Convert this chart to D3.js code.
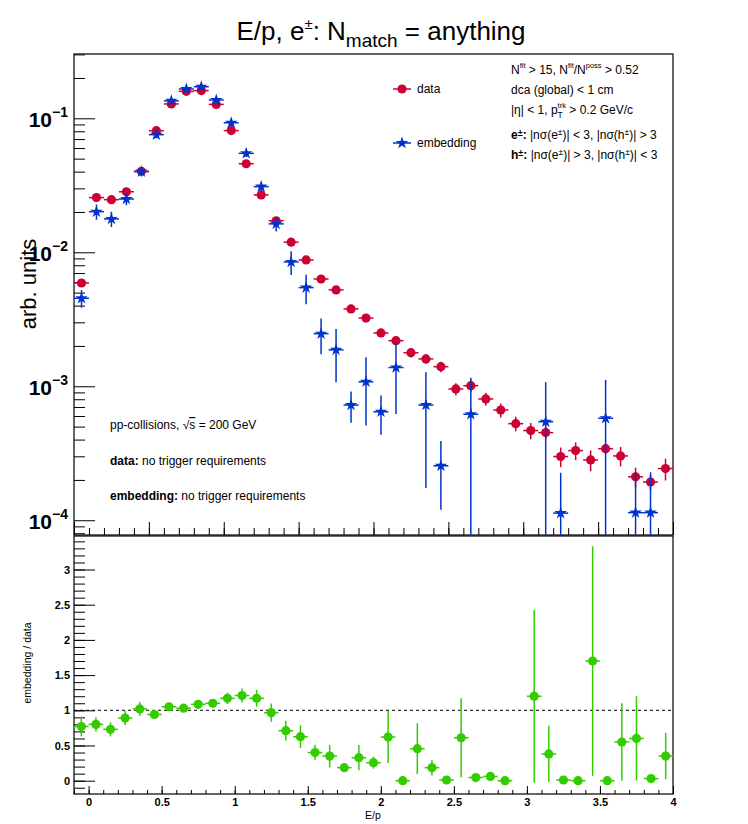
<!DOCTYPE html>
<html>
<head>
<meta charset="utf-8">
<script src="https://cdn.jsdelivr.net/npm/d3@7"></script>
<style>
  body { margin: 0; background: #fff; }
  svg { display: block; font-family: "Liberation Sans", Arial, Helvetica, sans-serif; }
</style>
</head>
<body>
<div id="plot"></div>
<script>
// upper pad: 40 bins of E/p (0..4), lower pad: 41 ratio points (-0.1..4)
const binCenters = [0.05,0.15,0.25,0.35,0.45,0.55,0.65,0.75,0.85,0.95,1.05,1.15,1.25,1.35,1.45,1.55,1.65,1.75,1.85,1.95,
                    2.05,2.15,2.25,2.35,2.45,2.55,2.65,2.75,2.85,2.95,3.05,3.15,3.25,3.35,3.45,3.55,3.65,3.75,3.85,3.95]

const dataValues = [5.9e-3,0.0256,0.0247,0.0283,0.0402,0.0808,0.128,0.159,0.161,0.127,
                    0.081,0.0458,0.0268,0.0172,0.0119,8.77e-3,6.32e-3,5.24e-3,3.78e-3,3.23e-3,
                    2.50e-3,2.19e-3,1.78e-3,1.60e-3,1.40e-3,9.55e-4,1.01e-3,8.04e-4,6.65e-4,5.26e-4,
                    4.67e-4,4.51e-4,2.99e-4,3.31e-4,2.82e-4,3.42e-4,3.02e-4,2.11e-4,1.93e-4,2.43e-4]
const dataErrors = [1.8e-4,5e-4,5e-4,5e-4,6e-4,9e-4,1.2e-3,1.4e-3,1.4e-3,1.2e-3,
                    9e-4,7e-4,5e-4,4e-4,3.5e-4,3e-4,2.6e-4,2.4e-4,2e-4,1.8e-4,
                    1.6e-4,1.5e-4,1.4e-4,1.3e-4,1.25e-4,1e-4,1e-4,9e-5,8e-5,6.5e-5,
                    6.5e-5,5e-5,5e-5,5e-5,5e-5,3.2e-5,5e-5,3.6e-5,2.5e-5,4.5e-5]

const embValues = [4.54e-3,0.0201,0.01775,0.0250,0.0400,0.0755,0.135,0.1655,0.172,0.137,
                   0.0927,0.0548,0.0309,0.0163,8.47e-3,5.45e-3,2.47e-3,1.87e-3,7.24e-4,1.08e-3,
                   6.45e-4,1.38e-3,null,7.24e-4,2.55e-4,null,6.18e-4,null,null,null,
                   null,5.44e-4,1.13e-4,null,null,5.77e-4,null,1.14e-4,1.14e-4,null]
const embErrors = [6.8e-4,2.6e-3,2.3e-3,2.5e-3,3.2e-3,4.5e-3,6.8e-3,8e-3,8.5e-3,7e-3,
                   5.5e-3,3.3e-3,2.3e-3,2.0e-3,1.7e-3,1.36e-3,7.4e-4,8.0e-4,1.9e-4,5.7e-4,
                   2.1e-4,7.6e-4,null,5.5e-4,1.35e-4,null,5.4e-4,null,null,null,
                   null,5.3e-4,1.13e-4,null,null,5.4e-4,null,1.14e-4,1.14e-4,null]

const ratioCenters = [-0.05,0.05,0.15,0.25,0.35,0.45,0.55,0.65,0.75,0.85,0.95,1.05,1.15,1.25,1.35,1.45,1.55,1.65,1.75,1.85,
                      1.95,2.05,2.15,2.25,2.35,2.45,2.55,2.65,2.75,2.85,2.95,3.05,3.15,3.25,3.35,3.45,3.55,3.65,3.75,3.85,3.95]
const ratioValues = [0.77,0.80,0.73,0.89,1.02,0.94,1.05,1.03,1.085,1.10,1.17,1.21,1.17,0.966,0.71,0.625,0.40,0.35,0.185,0.327,
                     0.256,0.62,0.0,0.455,0.185,0.01,0.61,0.045,0.06,0.0,null,1.20,0.38,0.01,0.0,1.70,0.0,0.55,0.60,0.03,0.35]
const ratioErrors = [0.14,0.10,0.10,0.10,0.10,0.06,0.05,0.05,0.06,0.06,0.08,0.10,0.12,0.13,0.14,0.16,0.11,0.16,0.05,0.18,
                     0.085,0.37,0.01,0.36,0.11,0.01,0.56,0.02,0.02,0.0,null,1.23,0.40,0.01,0.0,1.63,0.0,0.55,0.60,0.02,0.33]

const halfBin = 0.05
const red = '#cc0033', blue = '#0033cc', green = '#33cc00'

// layout
const W = 748, H = 824
const L = 74, R = 673, topT = 54, topB = 535, botT = 536, botB = 794

const svg = d3.select('#plot').append('svg').attr('width', W).attr('height', H)

const xTop = d3.scaleLinear().domain([0, 4]).range([L, R])
const xBot = d3.scaleLinear().domain([-0.1, 4.0]).range([L, R])
const yTop = d3.scaleLog().domain([7.76e-5, 0.302]).range([topB, topT])
const yBot = d3.scaleLinear().domain([-0.189, 3.476]).range([botB, botT])

const defs = svg.append('defs')
defs.append('clipPath').attr('id', 'clipTop').append('rect')
  .attr('x', L).attr('y', topT).attr('width', R - L).attr('height', topB - topT)
defs.append('clipPath').attr('id', 'clipBot').append('rect')
  .attr('x', L).attr('y', botT).attr('width', R - L).attr('height', botB - botT)

// text with sub/superscripts: parts = [{t, size, shift, bold}]
function richText(parent, x, y, size, parts, anchor) {
  const t = parent.append('text').attr('x', x).attr('y', y)
    .attr('font-size', size).attr('text-anchor', anchor || 'start')
  let cur = 0
  parts.forEach(p => {
    const shift = p.shift || 0
    const ts = t.append('tspan').attr('dy', shift - cur).text(p.t)
    if (p.size) ts.attr('font-size', p.size)
    if (p.bold) ts.attr('font-weight', 'bold')
    if (p.dx) ts.attr('dx', p.dx)
    if (p.over) ts.style('text-decoration', 'overline')
    p.node = ts.node()
    cur = shift
  })
  return t
}

// ---------------- axes / ticks ----------------
const logTicks = yTop.ticks()
const isDecade = v => Math.abs(Math.log10(v) - Math.round(Math.log10(v))) < 1e-6
const noDomain = g => g.select('.domain').remove()

svg.append('g').attr('transform', `translate(${L},0)`)
  .call(d3.axisLeft(yTop).tickValues(logTicks.filter(v => !isDecade(v))).tickSize(-11).tickFormat(''))
  .call(noDomain)
svg.append('g').attr('transform', `translate(${L},0)`)
  .call(d3.axisLeft(yTop).tickValues(logTicks.filter(isDecade)).tickSize(-21).tickFormat(''))
  .call(noDomain)

// decade labels 10^n
logTicks.filter(isDecade).forEach(v => {
  const e = Math.round(Math.log10(v))
  richText(svg, 68, yTop(v) + 9, 21, [
    {t: '10', bold: true},
    {t: '\u2212' + Math.abs(e), size: 14, bold: true, shift: -10}
  ], 'end')
})

// upper pad x ticks (no labels)
svg.append('g').attr('transform', `translate(0,${topB})`)
  .call(d3.axisBottom(xTop).tickValues(xTop.ticks(40)).tickSize(-7).tickFormat(''))
  .call(noDomain)
svg.append('g').attr('transform', `translate(0,${topB})`)
  .call(d3.axisBottom(xTop).tickValues(xTop.ticks(8)).tickSize(-13).tickFormat(''))
  .call(noDomain)

// lower pad y axis
svg.append('g').attr('transform', `translate(${L},0)`)
  .call(d3.axisLeft(yBot).tickValues(yBot.ticks(36)).tickSize(-11).tickFormat(''))
  .call(noDomain)
svg.append('g').attr('transform', `translate(${L},0)`)
  .call(d3.axisLeft(yBot).tickValues(yBot.ticks(7)).tickSize(-21).tickPadding(4).tickFormat(d3.format('~g')))
  .call(noDomain)
  .call(g => g.selectAll('text').attr('font-size', 11).attr('font-weight', 'bold')
    .attr('font-family', '"Liberation Sans", Arial, sans-serif'))

// lower pad x axis
svg.append('g').attr('transform', `translate(0,${botB})`)
  .call(d3.axisBottom(xBot).tickValues(xBot.ticks(41)).tickSize(-4).tickFormat(''))
  .call(noDomain)
svg.append('g').attr('transform', `translate(0,${botB})`)
  .call(d3.axisBottom(xBot).tickValues(xBot.ticks(8)).tickSize(-8).tickPadding(4).tickFormat(d3.format('~g')))
  .call(noDomain)
  .call(g => g.selectAll('text').attr('font-size', 11).attr('font-weight', 'bold')
    .attr('font-family', '"Liberation Sans", Arial, sans-serif'))

// frames
svg.append('rect').attr('x', L).attr('y', topT).attr('width', R - L).attr('height', topB - topT)
  .attr('fill', 'none').attr('stroke', '#000').attr('stroke-width', 1.2)
svg.append('rect').attr('x', L).attr('y', botT).attr('width', R - L).attr('height', botB - botT)
  .attr('fill', 'none').attr('stroke', '#000').attr('stroke-width', 1.2)

// ---------------- upper pad points ----------------
const topG = svg.append('g').attr('clip-path', 'url(#clipTop)')

const drawSeries = function(values, errors, color, marker) {
  const pts = binCenters.map((c, i) => ({c: c, v: values[i], e: errors[i]})).filter(d => d.v != null)
  const g = topG.append('g').attr('stroke', color).attr('stroke-width', 1.5)
  g.selectAll('.h').data(pts).enter().append('line')
    .attr('x1', d => xTop(d.c - halfBin)).attr('x2', d => xTop(d.c + halfBin))
    .attr('y1', d => yTop(d.v)).attr('y2', d => yTop(d.v))
  g.selectAll('.v').data(pts).enter().append('line')
    .attr('x1', d => xTop(d.c)).attr('x2', d => xTop(d.c))
    .attr('y1', d => yTop(d.v + d.e))
    .attr('y2', d => d.v - d.e > 0 ? yTop(d.v - d.e) : topB + 20)
  if (marker === 'circle') {
    topG.append('g').selectAll('circle').data(pts).enter().append('circle')
      .attr('cx', d => xTop(d.c)).attr('cy', d => yTop(d.v)).attr('r', 4.6).attr('fill', color)
  } else {
    topG.append('g').selectAll('path').data(pts).enter().append('path')
      .attr('d', d3.symbol().type(d3.symbolStar).size(48))
      .attr('transform', d => `translate(${xTop(d.c)},${yTop(d.v)})`).attr('fill', color)
  }
}
drawSeries(dataValues, dataErrors, red, 'circle')
drawSeries(embValues, embErrors, blue, 'star')

// ---------------- lower pad ----------------
const botG = svg.append('g').attr('clip-path', 'url(#clipBot)')
botG.append('line').attr('x1', L).attr('x2', R).attr('y1', yBot(1)).attr('y2', yBot(1))
  .attr('stroke', '#000').attr('stroke-width', 1).attr('stroke-dasharray', '3,3')

const rpts = ratioCenters.map((c, i) => ({c: c, v: ratioValues[i], e: ratioErrors[i]})).filter(d => d.v != null)
const rg = botG.append('g').attr('stroke', green).attr('stroke-width', 1.5)
rg.selectAll('.h').data(rpts).enter().append('line')
  .attr('x1', d => xBot(d.c - halfBin)).attr('x2', d => xBot(d.c + halfBin))
  .attr('y1', d => yBot(d.v)).attr('y2', d => yBot(d.v))
rg.selectAll('.v').data(rpts).enter().append('line')
  .attr('x1', d => xBot(d.c)).attr('x2', d => xBot(d.c))
  .attr('y1', d => yBot(d.v + d.e)).attr('y2', d => yBot(d.v - d.e))
botG.append('g').selectAll('circle').data(rpts).enter().append('circle')
  .attr('cx', d => xBot(d.c)).attr('cy', d => yBot(d.v)).attr('r', 4.6).attr('fill', green)

// ---------------- titles ----------------
richText(svg, 381, 40, 26, [
  {t: 'E/p, e'},
  {t: '\u00b1', size: 15, shift: -11},
  {t: ': N'},
  {t: 'match', size: 19, shift: 7},
  {t: ' = anything'}
], 'middle')

svg.append('text').attr('transform', 'translate(36,284) rotate(-90)')
  .attr('text-anchor', 'middle').attr('font-size', 22).text('arb. units')
svg.append('text').attr('transform', 'translate(31,663) rotate(-90)')
  .attr('text-anchor', 'middle').attr('font-size', 10.5).text('embedding / data')
svg.append('text').attr('x', 373).attr('y', 819)
  .attr('text-anchor', 'middle').attr('font-size', 10.5).text('E/p')

// ---------------- legend ----------------
const leg = svg.append('g')
leg.append('line').attr('x1', 393).attr('x2', 411).attr('y1', 89).attr('y2', 89).attr('stroke', red).attr('stroke-width', 1.5)
leg.append('circle').attr('cx', 402).attr('cy', 89).attr('r', 4.6).attr('fill', red)
leg.append('text').attr('x', 417).attr('y', 93).attr('font-size', 12).text('data')
leg.append('line').attr('x1', 393).attr('x2', 411).attr('y1', 143).attr('y2', 143).attr('stroke', blue).attr('stroke-width', 1.5)
leg.append('path').attr('d', d3.symbol().type(d3.symbolStar).size(48)).attr('transform', 'translate(402,143)').attr('fill', blue)
leg.append('text').attr('x', 417).attr('y', 147).attr('font-size', 12).text('embedding')

// ---------------- cut list ----------------
const cx = 511, fs = 12
richText(svg, cx, 74, fs, [
  {t: 'N'}, {t: 'fit', size: 7.5, shift: -6}, {t: ' > 15, N'}, {t: 'fit', size: 7.5, shift: -6},
  {t: '/N'}, {t: 'poss', size: 7.5, shift: -6}, {t: ' > 0.52'}
])
richText(svg, cx, 94, fs, [{t: 'dca (global) < 1 cm'}])
const ptParts = [
  {t: '|\u03b7| < 1, p'}, {t: 'trk', size: 7.5, shift: -6}, {t: 'T', size: 8.5, shift: 4}, {t: ' > 0.2 GeV/c'}
]
richText(svg, cx, 114, fs, ptParts)
// stack the T subscript under "trk"
const supLen = ptParts[1].node.getComputedTextLength()
const subLen = ptParts[2].node.getComputedTextLength()
d3.select(ptParts[2].node).attr('dx', -supLen)
d3.select(ptParts[3].node).attr('dx', supLen - subLen)

richText(svg, cx, 139, fs, [
  {t: 'e', bold: true}, {t: '\u00b1', size: 9, shift: -3, bold: true}, {t: ':', bold: true},
  {t: ' |n\u03c3(e'}, {t: '\u00b1', size: 8.5, shift: -4}, {t: ')| < 3, |n\u03c3(h'}, {t: '\u00b1', size: 8.5, shift: -4},
  {t: ')| > 3'}
])
richText(svg, cx, 159, fs, [
  {t: 'h', bold: true}, {t: '\u00b1', size: 9, shift: -3, bold: true}, {t: ':', bold: true},
  {t: ' |n\u03c3(e'}, {t: '\u00b1', size: 8.5, shift: -4}, {t: ')| > 3, |n\u03c3(h'}, {t: '\u00b1', size: 8.5, shift: -4},
  {t: ')| < 3'}
])

// ---------------- collision info ----------------
richText(svg, 110, 429, fs, [
  {t: 'pp-collisions,  \u221a'}, {t: 's', over: true}, {t: ' = 200 GeV'}
])
richText(svg, 110, 465, fs, [{t: 'data:', bold: true}, {t: ' no trigger requirements'}])
richText(svg, 110, 500, fs, [{t: 'embedding:', bold: true}, {t: ' no trigger requirements'}])
</script>
</body>
</html>
